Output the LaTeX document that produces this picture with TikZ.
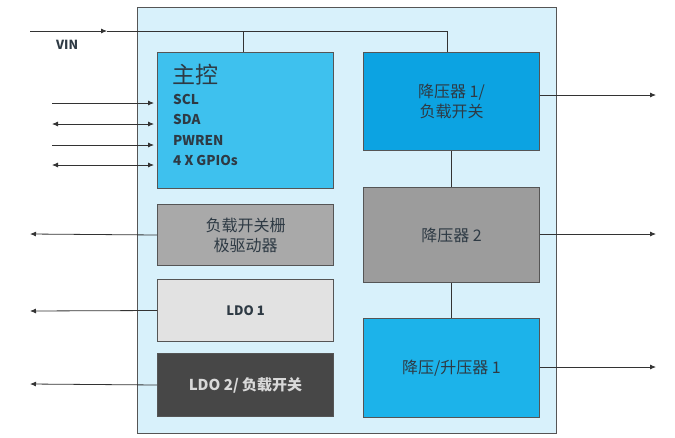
\documentclass[tikz,border=0pt]{standalone}
\usepackage{fontspec}
\setmainfont{Noto Sans CJK SC}
\usetikzlibrary{arrows.meta}
\definecolor{outerc}{HTML}{D8F1FB}
\definecolor{mainc}{HTML}{3EC1EE}
\definecolor{b1c}{HTML}{0CA3E2}
\definecolor{b3c}{HTML}{1CB3EA}
\definecolor{grayc}{HTML}{9C9C9C}
\definecolor{gdc}{HTML}{A9A9A9}
\definecolor{lgc}{HTML}{E2E2E2}
\definecolor{dkc}{HTML}{474747}
\definecolor{linec}{HTML}{555555}
\definecolor{txt}{HTML}{2E3A44}
\begin{document}
\begin{tikzpicture}[x=1pt,y=-1pt,
  blk/.style={draw=linec,line width=1pt,minimum width=176pt,anchor=north west,inner sep=0pt,text=txt,align=center,font=\fontsize{16}{20}\selectfont},
  wire/.style={draw=black!80,line width=0.8pt},
  arr/.style={wire,-{Latex[length=6pt,width=5pt]}},
  barr/.style={wire,{Latex[length=6pt,width=5pt]}-{Latex[length=6pt,width=5pt]}}]
\useasboundingbox (0,0) rectangle (675,437);
\node[draw=linec,line width=1pt,fill=outerc,minimum width=419pt,minimum height=426pt,anchor=north west,inner sep=0pt] (outer) at (137,7) {};
\node[blk,fill=mainc,minimum height=136pt] (main) at (157,52) {};
\node[anchor=north west,inner sep=0pt,text=txt,font=\fontsize{23}{25}\selectfont] (mt) at (172,64) {主控};
\node[anchor=north west,inner sep=0pt,text=txt,font=\bfseries\fontsize{13.5}{20.5}\selectfont,align=left] (ml) at (173,94) {SCL\\SDA\\PWREN\\4 X GPIOs};
\node[blk,fill=b1c,minimum height=98pt] (b1) at (363,52) {降压器 1/\\负载开关};
\node[blk,fill=grayc,minimum height=95pt] (b2) at (363,187) {降压器 2};
\node[blk,fill=b3c,minimum height=99pt] (b3) at (363,318) {降压/升压器 1};
\node[blk,fill=gdc,minimum height=61pt] (g) at (157,204) {负载开关栅\\极驱动器};
\node[blk,fill=lgc,minimum height=62pt,font=\bfseries\fontsize{13}{15}\selectfont] (l1) at (157,279) {LDO 1};
\node[blk,fill=dkc,minimum height=63pt,text=white!85!black,font=\bfseries\fontsize{15}{17}\selectfont] (l2) at (157,353) {LDO 2/ 负载开关};
\coordinate (vs) at (30,31);
\coordinate (vm) at (107,31);
\coordinate (vt) at (243,31);
\coordinate (vr) at (447,31);
\draw[arr] (vs) -- (vm);
\draw[wire] (vm) -- (vr) -- (b1.north -| vr);
\draw[wire] (vt) -- (main.north -| vt);
\node[anchor=west,inner sep=0pt,font=\bfseries\fontsize{12.5}{14}\selectfont,text=txt] (vin) at (56,45) {VIN};
\draw[wire] (b1.south) -- (b2.north);
\draw[wire] (b2.south) -- (b3.north);
\foreach \y/\s in {103/arr,124/barr,145/arr,165/barr}{
  \coordinate (p\y) at (52,\y);
  \coordinate (q\y) at (154,\y);
  \draw[\s] (p\y) -- (q\y);
}
\coordinate (o1) at (30,234);
\coordinate (o2) at (30,311);
\coordinate (o3) at (30,384);
\draw[arr] (g.west) -- (o1);
\draw[arr] (l1.west) -- (o2);
\draw[arr] (l2.west) -- (o3);
\coordinate (r1) at (656,95);
\coordinate (r2) at (656,234);
\coordinate (r3) at (656,367);
\draw[arr] (b1.east |- r1) -- (r1);
\draw[arr] (b2.east |- r2) -- (r2);
\draw[arr] (b3.east |- r3) -- (r3);
\end{tikzpicture}
\end{document}
